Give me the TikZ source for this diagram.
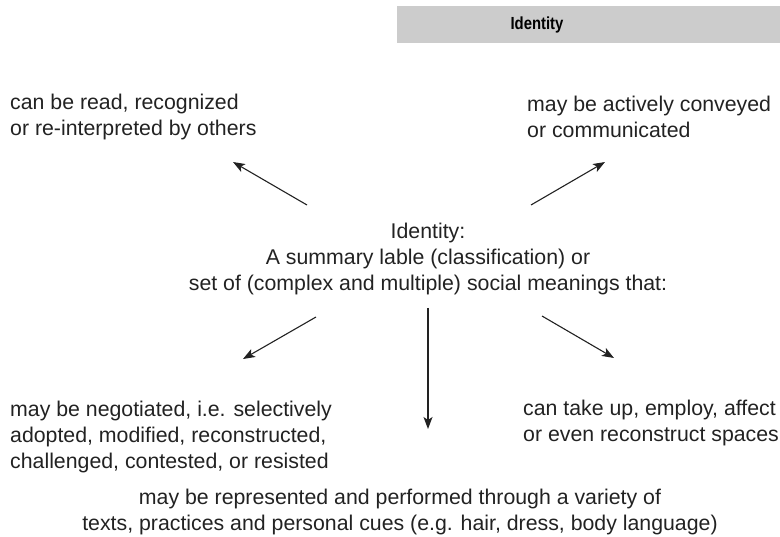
\documentclass[tikz,border=0pt]{standalone}
\usepackage{fontspec}
\setmainfont{Liberation Sans}
\newfontfamily\hdrfont[FakeStretch=0.85]{Liberation Sans}
\usetikzlibrary{arrows.meta}
\definecolor{bargray}{HTML}{CCCCCC}
\definecolor{txt}{HTML}{222222}
\begin{document}
\begin{tikzpicture}[x=1pt,y=-1pt,
  lbl/.style={inner sep=0pt,text=txt,font=\fontsize{21.3}{26}\selectfont},
  arr/.style={-{Stealth[length=12pt,width=9pt,inset=3pt]},line width=1.1pt,draw=txt}]
\useasboundingbox (0,0) rectangle (780,537);
\fill[bargray] (397,6) rectangle (780,43);
\node[inner sep=0pt,font=\hdrfont\fontsize{17.5}{20}\selectfont\bfseries] (hdr) at (537,25) {Identity};
\node[lbl,align=left,anchor=west] (tl) at (10,117) {can be read, recognized\\or re-interpreted by others};
\node[lbl,align=left,anchor=west] (tr) at (527,117) {may be actively conveyed\\or communicated};
\node[lbl,align=center] (c) at (428,259) {Identity:\\A summary lable (classification) or\\set of (complex and multiple) social meanings that:};
\node[lbl,align=left,anchor=west] (bl) at (10,437) {may be negotiated, i.e. selectively\\adopted, modified, reconstructed,\\challenged, contested, or resisted};
\node[lbl,align=left,anchor=west] (br) at (523,423) {can take up, employ, affect\\or even reconstruct spaces};
\node[lbl,align=center] (b) at (400,512) {may be represented and performed through a variety of\\texts, practices and personal cues (e.g. hair, dress, body language)};
\coordinate (a1s) at (307,205); \coordinate (a1e) at (233,162);
\coordinate (a2s) at (531,205); \coordinate (a2e) at (605,162);
\coordinate (a3s) at (316,317); \coordinate (a3e) at (243,359);
\coordinate (a4s) at (542,316); \coordinate (a4e) at (614,358);
\coordinate (a5s) at (428,308); \coordinate (a5e) at (428,429);
\draw[arr] (a1s) -- (a1e);
\draw[arr] (a2s) -- (a2e);
\draw[arr] (a3s) -- (a3e);
\draw[arr] (a4s) -- (a4e);
\draw[arr] (a5s) -- (a5e);
\end{tikzpicture}
\end{document}
